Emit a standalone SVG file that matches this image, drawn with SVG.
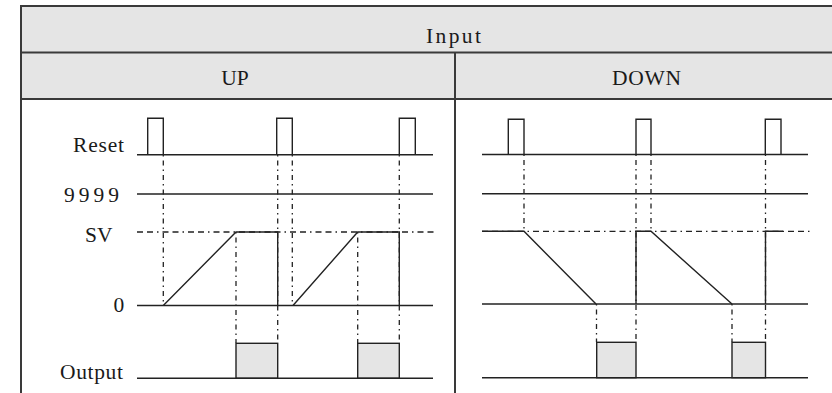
<svg xmlns="http://www.w3.org/2000/svg" width="832" height="393" viewBox="0 0 832 393">
<style>
text{font-family:"Liberation Serif","Times New Roman",serif;font-size:21.5px;fill:#1a1a1a}
.frame{stroke:#3a3a3a;stroke-width:2;fill:none}
.ln{stroke:#222;stroke-width:1.4;fill:none}
.sv{stroke:#222;stroke-width:1.3;fill:none;stroke-dasharray:6 4 6 4 1.5 4}
.dd{stroke:#222;stroke-width:1.3;fill:none;stroke-dasharray:1.5 4 5 4}
.box{fill:#e5e5e5;stroke:#222;stroke-width:1.4}
</style>
<g id="table">
<rect x="21" y="6" width="812" height="93" fill="#e5e5e5"/>
<line class="frame" x1="21" y1="6" x2="832" y2="6"/>
<line class="frame" x1="21" y1="52.5" x2="832" y2="52.5"/>
<line class="frame" x1="21" y1="99" x2="832" y2="99"/>
<line class="frame" x1="21" y1="5" x2="21" y2="393"/>
<line class="frame" x1="455" y1="52.5" x2="455" y2="393"/>
<text x="426" y="43" textLength="55" lengthAdjust="spacing">Input</text>
<text x="235" y="85" text-anchor="middle">UP</text>
<text x="612" y="85" textLength="69" lengthAdjust="spacing">DOWN</text>
</g>
<g id="labels">
<text x="73" y="151.5" textLength="51" lengthAdjust="spacing">Reset</text>
<text x="64" y="201.5" textLength="55" lengthAdjust="spacing">9999</text>
<text x="112.5" y="241.5" text-anchor="end">SV</text>
<text x="113.5" y="312">0</text>
<text x="60" y="379" textLength="63" lengthAdjust="spacing">Output</text>
</g>
<g id="connectors">
<line class="dd" x1="163.3" y1="155" x2="163.3" y2="305"/>
<line class="dd" x1="277.7" y1="155" x2="277.7" y2="343"/>
<line class="dd" x1="292.3" y1="155" x2="292.3" y2="305"/>
<line class="dd" x1="399.3" y1="155" x2="399.3" y2="343"/>
<line class="dd" x1="236" y1="232" x2="236" y2="343"/>
<line class="dd" x1="357.7" y1="232" x2="357.7" y2="343"/>
<line class="dd" x1="524" y1="154.5" x2="524" y2="231.5"/>
<line class="dd" x1="636" y1="154.5" x2="636" y2="342"/>
<line class="dd" x1="651" y1="154.5" x2="651" y2="231.5"/>
<line class="dd" x1="765.5" y1="154.5" x2="765.5" y2="342"/>
<line class="dd" x1="596.5" y1="304" x2="596.5" y2="342"/>
<line class="dd" x1="732" y1="304" x2="732" y2="342"/>
</g>
<g id="up-chart">
<line class="ln" x1="137" y1="154.7" x2="433" y2="154.7"/>
<polyline class="ln" points="147.7,154.7 147.7,118.3 163.3,118.3 163.3,154.7"/>
<polyline class="ln" points="276.7,154.7 276.7,118.3 292.3,118.3 292.3,154.7"/>
<polyline class="ln" points="399.3,154.7 399.3,118.3 415.3,118.3 415.3,154.7"/>
<line class="ln" x1="137" y1="194" x2="433" y2="194"/>
<line class="sv" x1="137" y1="232" x2="434" y2="232"/>
<line class="ln" x1="137" y1="305.5" x2="433" y2="305.5"/>
<polyline class="ln" points="163.3,305.5 236,232 277.7,232 277.7,305.5"/>
<polyline class="ln" points="293,305.5 357.7,232 399.3,232 399.3,305.5"/>
<rect class="box" x="236" y="343.3" width="41.7" height="35"/>
<rect class="box" x="357.7" y="343.3" width="41.6" height="35"/>
<line class="ln" x1="137" y1="378.3" x2="433" y2="378.3"/>
</g>
<g id="down-chart">
<line class="ln" x1="482" y1="154.5" x2="808" y2="154.5"/>
<polyline class="ln" points="508.3,154.5 508.3,119.3 524,119.3 524,154.5"/>
<polyline class="ln" points="636,154.5 636,119.3 651,119.3 651,154.5"/>
<polyline class="ln" points="765.3,154.5 765.3,119.3 781,119.3 781,154.5"/>
<line class="ln" x1="482" y1="193.7" x2="808" y2="193.7"/>
<line class="sv" x1="482" y1="231.3" x2="813" y2="231.3"/>
<line class="ln" x1="482" y1="304" x2="808" y2="304"/>
<polyline class="ln" points="482,231.3 524,231.3 596,304"/>
<polyline class="ln" points="636,304 636,231.3 651,231.3 732,304"/>
<polyline class="ln" points="765.5,304 765.5,231.3 783,231.3"/>
<rect class="box" x="596.7" y="342.3" width="39.3" height="35.4"/>
<rect class="box" x="732" y="342.3" width="33.5" height="35.4"/>
<line class="ln" x1="482" y1="377.7" x2="808" y2="377.7"/>
</g>
</svg>
